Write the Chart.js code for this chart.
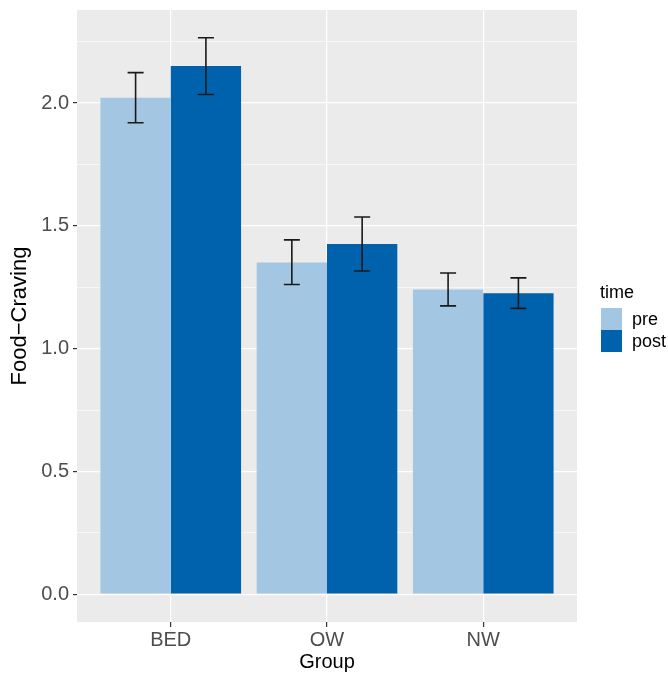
<!DOCTYPE html>
<html>
<head>
<meta charset="utf-8">
<script src="https://cdn.jsdelivr.net/npm/chart.js@4.4.1/dist/chart.umd.min.js"></script>
<style>
  body { margin: 0; background: #fff; }
  #wrap { position: relative; width: 668px; height: 674px; }
  #legend { position: absolute; left: 0; top: 0; font-family: "Liberation Sans", Arial, sans-serif; color: #000; }
  #legend .ttl { position: absolute; left: 600px; top: 281px; font-size: 18px; line-height: 22px; white-space: nowrap; }
  #legend .key { position: absolute; left: 601px; width: 21px; height: 22px; }
  #legend .lbl { position: absolute; left: 632px; font-size: 18px; line-height: 22px; white-space: nowrap; }
</style>
</head>
<body>
<div id="wrap">
  <canvas id="food-craving"></canvas>
  <div id="legend"></div>
</div>
<script>
const groups = ["BED", "OW", "NW"];
const seriesNames = ["pre", "post"];
const preMeans = [2.022, 1.351, 1.241];
const postMeans = [2.151, 1.426, 1.226];
const preLow = [1.920, 1.261, 1.174];
const preHigh = [2.124, 1.443, 1.308];
const postLow = [2.035, 1.316, 1.164];
const postHigh = [2.266, 1.536, 1.288];
const yTicks = [0, 0.25, 0.5, 0.75, 1, 1.25, 1.5, 1.75, 2, 2.25];

const FONT = "'Liberation Sans', Arial, sans-serif";
const colors = ["#A3C7E2", "#0062AD"];

const isMajor = (v) => Math.abs(v * 2 - Math.round(v * 2)) < 1e-9;

// ggplot-like grey panel
const panelBg = {
  id: "panelBg",
  beforeDraw(chart) {
    const { ctx, chartArea: a } = chart;
    ctx.save();
    ctx.fillStyle = "#EBEBEB";
    ctx.fillRect(a.left, a.top, a.right - a.left, a.bottom - a.top);
    ctx.restore();
  },
};

// error bars from errLow / errHigh on each dataset
const errorBars = {
  id: "errorBars",
  afterDatasetsDraw(chart) {
    const { ctx } = chart;
    const yScale = chart.scales.y;
    ctx.save();
    ctx.strokeStyle = "#1A1A1A";
    ctx.lineWidth = 1.6;
    chart.data.datasets.forEach((ds, d) => {
      const meta = chart.getDatasetMeta(d);
      meta.data.forEach((bar, i) => {
        const x = bar.x;
        const y1 = yScale.getPixelForValue(ds.errLow[i]);
        const y2 = yScale.getPixelForValue(ds.errHigh[i]);
        const w = 8;
        ctx.beginPath();
        ctx.moveTo(x, y1);
        ctx.lineTo(x, y2);
        ctx.moveTo(x - w, y1);
        ctx.lineTo(x + w, y1);
        ctx.moveTo(x - w, y2);
        ctx.lineTo(x + w, y2);
        ctx.stroke();
      });
    });
    ctx.restore();
  },
};

let data = {
  datasets: [
    {
      label: seriesNames[0],
      data: groups.map((g, i) => ({ x: i + 1, y: preMeans[i] })),
      backgroundColor: colors[0],
      errLow: preLow,
      errHigh: preHigh,
    },
    {
      label: seriesNames[1],
      data: groups.map((g, i) => ({ x: i + 1, y: postMeans[i] })),
      backgroundColor: colors[1],
      errLow: postLow,
      errHigh: postHigh,
    },
  ],
};

let options = {
  animation: false,
  responsive: true,
  maintainAspectRatio: false,
  layout: { padding: { top: 10, right: 91, left: 0, bottom: 0 } },
  datasets: { bar: { categoryPercentage: 0.9, barPercentage: 1.0, borderWidth: 0 } },
  plugins: {
    legend: { display: false },
    tooltip: { enabled: false },
  },
  scales: {
    x: {
      type: "linear",
      min: 0.4,
      max: 3.6,
      offset: false,
      afterBuildTicks: (s) => {
        s.ticks = groups.map((g, i) => ({ value: i + 1 }));
      },
      afterFit: (s) => {
        s.height = 52;
        s.paddingLeft = 0;
        s.paddingRight = 0;
      },
      ticks: {
        callback: (v) => groups[Math.round(v) - 1] || "",
        color: "#4D4D4D",
        font: { family: FONT, size: 20 },
        padding: 1,
        autoSkip: false,
        maxRotation: 0,
      },
      grid: { color: "#FFFFFF", lineWidth: 1.2, tickLength: 5, tickColor: "#333333", offset: false },
      border: { display: false },
      title: {
        display: true,
        text: "Group",
        color: "#000",
        font: { family: FONT, size: 20 },
        padding: { top: 0, bottom: 0 },
      },
    },
    y: {
      min: -0.1133,
      max: 2.379,
      afterBuildTicks: (s) => {
        s.ticks = yTicks.map((v) => ({ value: v }));
      },
      afterFit: (s) => {
        s.width = 77;
        s.paddingTop = 0;
        s.paddingBottom = 0;
      },
      ticks: {
        callback: (v) => (isMajor(v) ? v.toFixed(1) : ""),
        color: "#4D4D4D",
        font: { family: FONT, size: 20 },
        padding: 4,
        autoSkip: false,
      },
      grid: {
        color: "#FFFFFF",
        lineWidth: (c) => (isMajor(c.tick.value) ? 1.2 : 0.6),
        tickLength: 4,
        tickColor: (c) => (isMajor(c.tick.value) ? "#333333" : "rgba(0,0,0,0)"),
      },
      border: { display: false },
      title: {
        display: true,
        text: "Food\u2212Craving",
        color: "#000",
        font: { family: FONT, size: 22 },
        padding: { top: 7, bottom: 0 },
      },
    },
  },
};

let ctx = document.getElementById("food-craving").getContext("2d");

let chart = new Chart(ctx, {
  type: "bar",
  data: data,
  options: options,
  plugins: [panelBg, errorBars],
});

// legend in the ggplot style, built from the datasets
let legend = document.getElementById("legend");
legend.innerHTML = `<div class="ttl">time</div>`;
chart.data.datasets.forEach((ds, i) => {
  let top = 308 + i * 22;
  legend.innerHTML +=
    `<div class="key" style="top:${top}px;background:${ds.backgroundColor}"></div>` +
    `<div class="lbl" style="top:${top}px">${ds.label}</div>`;
});
</script>
</body>
</html>
